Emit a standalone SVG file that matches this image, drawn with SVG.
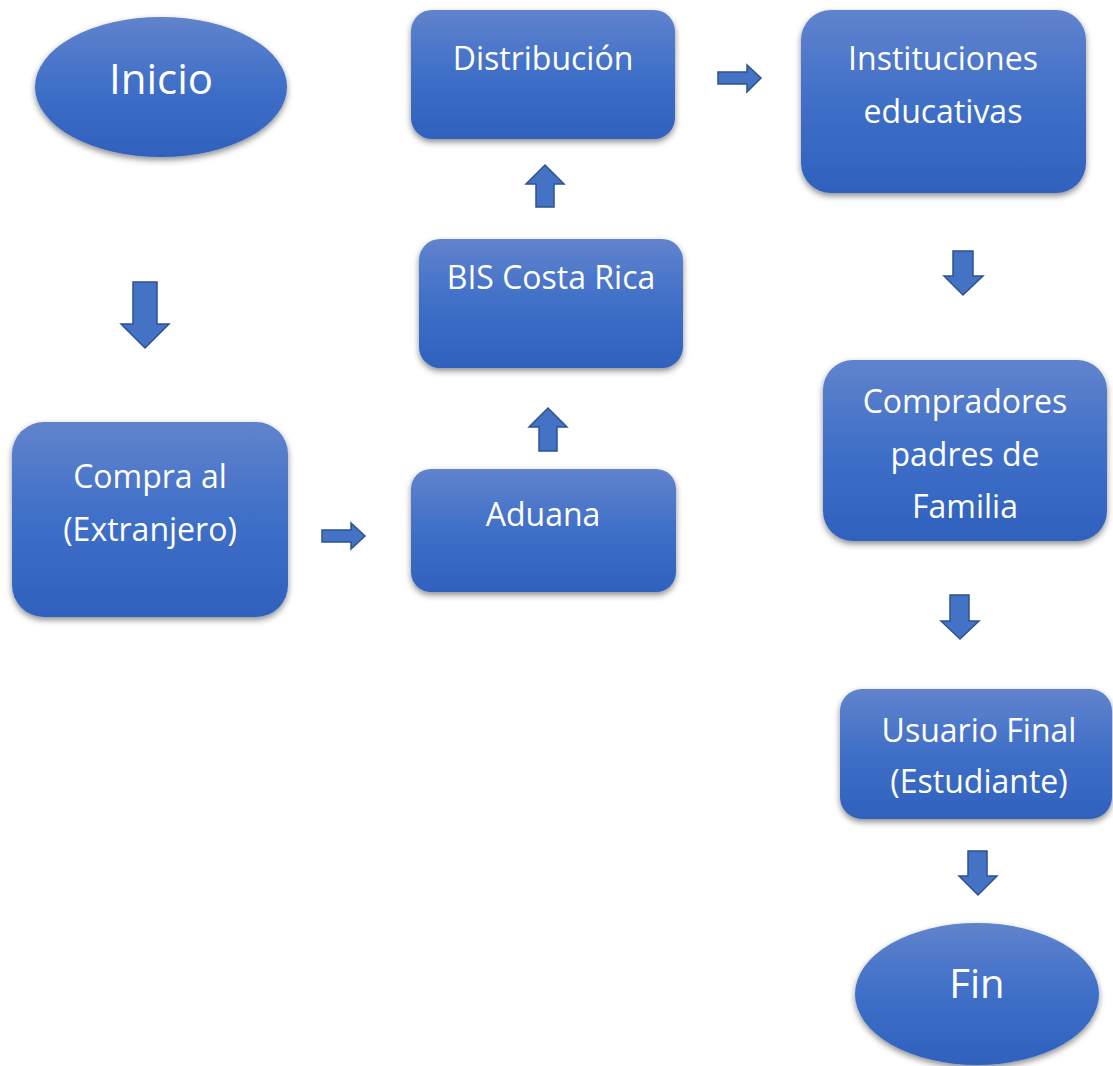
<svg xmlns="http://www.w3.org/2000/svg" width="1113" height="1066" viewBox="0 0 1113 1066">
<defs>
<linearGradient id="g" x1="0" y1="0" x2="0" y2="1">
<stop offset="0" stop-color="#6183CD"/>
<stop offset="0.5" stop-color="#3F6FC8"/>
<stop offset="1" stop-color="#2F61BD"/>
</linearGradient>
<filter id="sh" x="-10%" y="-10%" width="120%" height="130%">
<feDropShadow dx="0" dy="3" stdDeviation="3" flood-color="#000" flood-opacity="0.45"/>
</filter>
</defs>
<style>
.n{fill:url(#g);filter:url(#sh)}
.t{fill:#fff;font-family:"Open Sans","Noto Sans",sans-serif;font-size:32px;text-anchor:middle}
.a{fill:#4472C4;stroke:#2F528F;stroke-width:1.5;stroke-linejoin:miter}
</style>
<rect width="1113" height="1066" fill="#fff"/>
<g id="inicio"><ellipse class="n" cx="161" cy="87" rx="126" ry="70"/><text class="t" x="161" y="94" style="font-size:42px">Inicio</text></g>
<g id="compra"><rect class="n" x="12" y="422" width="276" height="195" rx="32"/><text class="t" x="150" y="488">Compra al</text><text class="t" x="150" y="541">(Extranjero)</text></g>
<g id="aduana"><rect class="n" x="411" y="469" width="265" height="123" rx="20"/><text class="t" x="543" y="526">Aduana</text></g>
<g id="bis"><rect class="n" x="419" y="239" width="264" height="129" rx="21"/><text class="t" x="551" y="289">BIS Costa Rica</text></g>
<g id="distribucion"><rect class="n" x="411" y="10" width="264" height="129" rx="21"/><text class="t" x="543" y="70">Distribución</text></g>
<g id="instituciones"><rect class="n" x="801" y="10" width="285" height="183" rx="30"/><text class="t" x="943" y="70">Instituciones</text><text class="t" x="943" y="123">educativas</text></g>
<g id="compradores"><rect class="n" x="823" y="360" width="284" height="181" rx="30"/><text class="t" x="965" y="413">Compradores</text><text class="t" x="965" y="466">padres de</text><text class="t" x="965" y="518">Familia</text></g>
<g id="usuario"><rect class="n" x="840" y="689" width="272" height="130" rx="22"/><text class="t" x="979" y="742">Usuario Final</text><text class="t" x="979" y="793">(Estudiante)</text></g>
<g id="fin"><ellipse class="n" cx="977" cy="994" rx="122" ry="71"/><text class="t" x="977" y="998" style="font-size:40px">Fin</text></g>
<g id="connectors">
<polygon class="a" points="133,282 157,282 157,324 169,324 145,348 121,324 133,324"/>
<polygon class="a" points="322,530 351,530 351,523 365,536 351,549 351,542 322,542"/>
<polygon class="a" points="539,451 557,451 557,427 567,427 548,408 529,427 539,427"/>
<polygon class="a" points="536,207 554,207 554,184 564,184 545,165 526,184 536,184"/>
<polygon class="a" points="718,72 747,72 747,65 761,78 747,92 747,84 718,84"/>
<polygon class="a" points="953,251 973,251 973,276 983,276 963,295 944,276 953,276"/>
<polygon class="a" points="950,595 969,595 969,621 979,621 960,639 941,621 950,621"/>
<polygon class="a" points="968,851 987,851 987,876 997,876 978,895 959,876 968,876"/>
</g>
</svg>
